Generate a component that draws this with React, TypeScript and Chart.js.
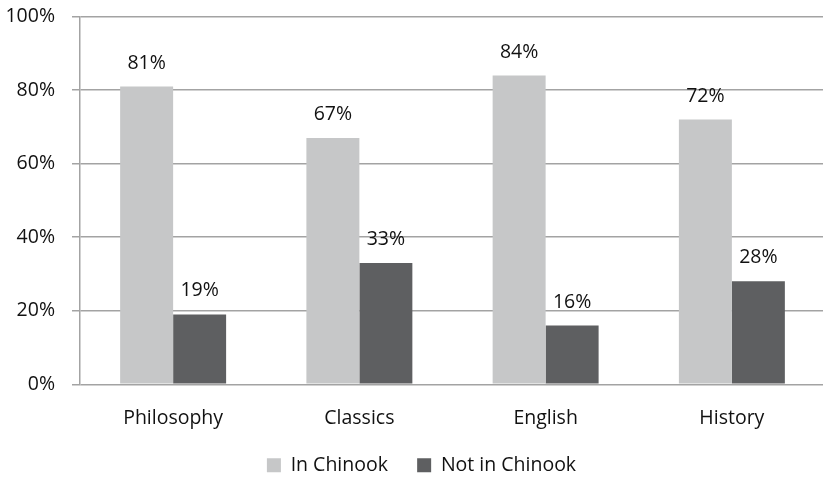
import React, { useEffect, useRef } from "react";
import { Chart, registerables } from "chart.js";

Chart.register(...registerables);

const categories = ["Philosophy", "Classics", "English", "History"];
const inChinook = [81, 67, 84, 72];
const notInChinook = [19, 33, 16, 28];
const yTicks = [0, 20, 40, 60, 80, 100];
const seriesNames = ["In Chinook", "Not in Chinook"];

const FONT = "'Open Sans', 'Noto Sans', sans-serif";
const FS = 19.5;
const LEGEND_PAD = 14;
const CW = 861;
const CH = 497;

const barLabels = {
  id: "barLabels",
  afterDatasetsDraw(chart: any) {
    const ctx = chart.ctx;
    ctx.save();
    ctx.font = `${FS}px ${FONT}`;
    ctx.fillStyle = "#111";
    ctx.textAlign = "center";
    ctx.textBaseline = "middle";
    chart.data.datasets.forEach((ds: any, di: number) => {
      const meta = chart.getDatasetMeta(di);
      meta.data.forEach((bar: any, i: number) => {
        ctx.fillText(ds.data[i] + "%", bar.x, bar.y - 23.5);
      });
    });
    ctx.restore();
  },
};

const legendShift = {
  id: "legendShift",
  afterLayout(chart: any) {
    if (chart.legend) {
      chart.legend.left += 9;
      chart.legend.right += 9;
    }
  },
};

export default function App() {
  const ref = useRef<HTMLCanvasElement>(null);
  useEffect(() => {
    document.body.style.margin = "0";
    const chart = new Chart(ref.current!, {
      type: "bar",
      data: {
        labels: categories,
        datasets: [
          { label: seriesNames[0], data: inChinook, backgroundColor: "#C6C7C8", barPercentage: 1, categoryPercentage: 0.569 },
          { label: seriesNames[1], data: notInChinook, backgroundColor: "#5E5F61", barPercentage: 1, categoryPercentage: 0.569 },
        ],
      },
      options: {
        animation: false,
        responsive: false,
        maintainAspectRatio: false,
        layout: { padding: { top: 3, right: CW - 825, left: 0, bottom: 0 } },
        plugins: {
          tooltip: { enabled: false },
          legend: {
            position: "bottom",
            labels: {
              font: { family: FONT, size: FS },
              color: "#111",
              boxWidth: 14,
              boxHeight: 14,
              padding: LEGEND_PAD,
              generateLabels: (c: any) => {
                const items = Chart.defaults.plugins.legend.labels.generateLabels(c);
                return items.map((it: any, i: number) => ({
                  ...it,
                  text: i < items.length - 1 ? it.text + "\u00A0\u00A0\u00A0" : it.text,
                  lineWidth: 0,
                }));
              },
            },
          },
        },
        scales: {
          x: {
            grid: { display: false },
            border: { display: false },
            ticks: { font: { family: FONT, size: FS }, color: "#111", padding: 14 },
            afterFit: (s: any) => { s.height = 57.25; },
          },
          y: {
            min: 0,
            max: 100,
            afterBuildTicks: (s: any) => { s.ticks = yTicks.map((v) => ({ value: v })); },
            ticks: {
              font: { family: FONT, size: FS },
              color: "#111",
              padding: 17,
              callback: (v: any) => v + "%",
            },
            grid: { color: "#A3A3A3", lineWidth: 1.5, tickLength: 8, drawTicks: true },
            border: { display: true, color: "#A3A3A3", width: 1.5 },
            afterFit: (s: any) => { s.width = 80; },
          },
        },
      },
      plugins: [barLabels, legendShift],
    });
    return () => chart.destroy();
  }, []);
  return (
    <div style={{ position: "fixed", left: 0, top: 0, width: 823, height: 477, overflow: "hidden", background: "#fff" }}>
      <canvas
        ref={ref}
        width={CW}
        height={CH}
        style={{ width: CW, height: CH, display: "block", position: "absolute", left: 0, top: -12 }}
      />
    </div>
  );
}
